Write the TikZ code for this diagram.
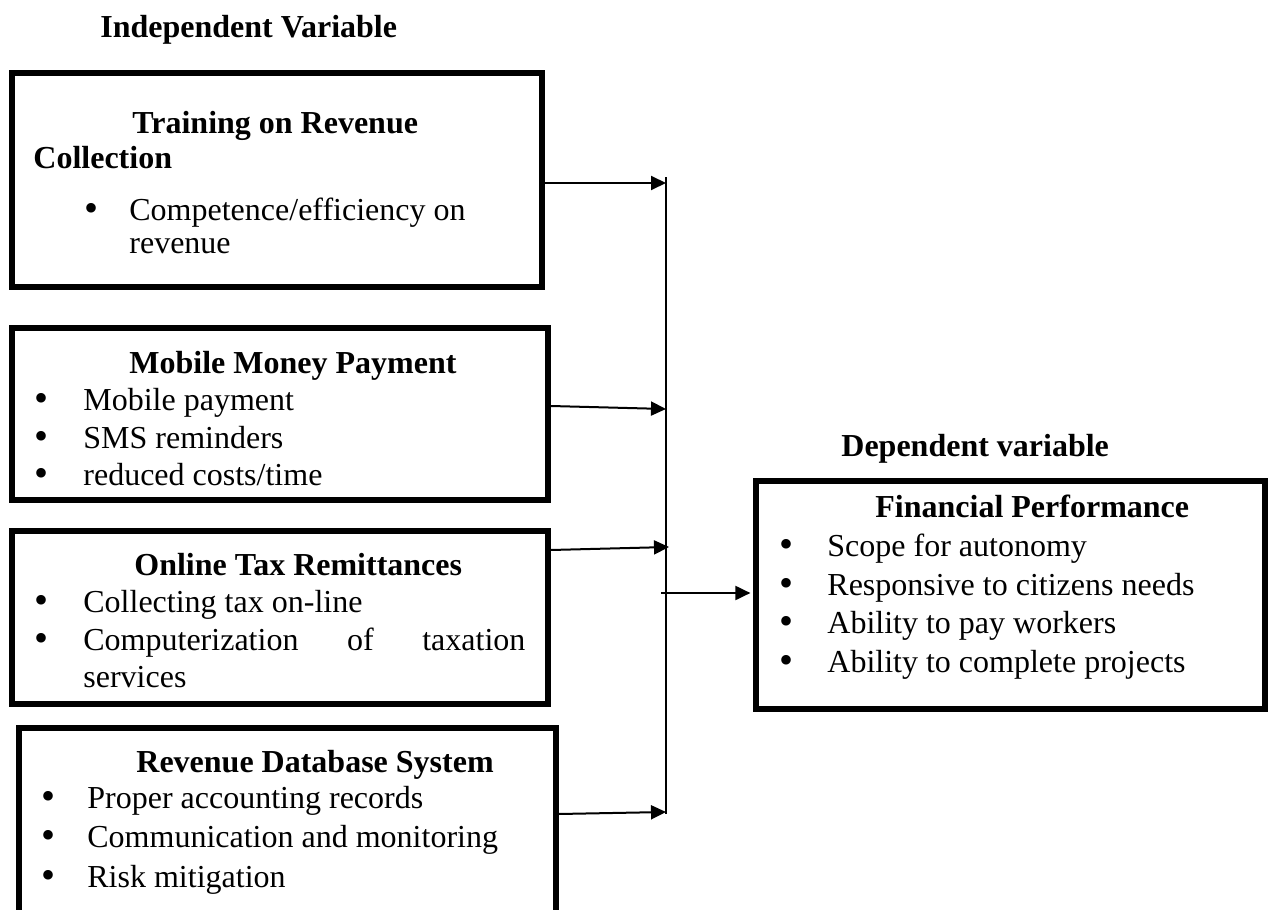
\documentclass[tikz,border=0pt]{standalone}
\usepackage{fontspec}
\setmainfont{Liberation Serif}
\usetikzlibrary{arrows.meta,fit}

\newcommand{\blt}{\smash{\raisebox{-0.04em}{\scalebox{1.25}{\textbullet}}}}

\begin{document}
\begin{tikzpicture}[x=0.5pt,y=-0.5pt, font=\fontsize{16}{19}\selectfont,
  frame/.style={draw,line width=2.8pt,inner sep=0pt},
  txt/.style={anchor=base west,inner sep=0pt},
  head/.style={txt,font=\fontsize{16}{19}\selectfont\bfseries},
  link/.style={-{Triangle[length=7.5pt,width=7pt]},line width=1pt}]
  \useasboundingbox (0,0) rectangle (1276,910);
  \clip (0,0) rectangle (1276,910);

  \node[head] (indep) at (100,37) {Independent Variable};

  % training box
  \node[frame,fit={(12,73) (542,287)}] (train) {};
  \node[head] (trainA) at (132,133) {Training on Revenue};
  \node[head] (trainB) at (33,168) {Collection};
  \node[txt] (trainDot) at (84,220) {\blt};
  \node[txt] (trainI) at (129,220) {Competence/efficiency on};
  \node[txt] (trainJ) at (129,253) {revenue};

  % mobile money box
  \node[frame,fit={(12,328) (548,500)}] (mobile) {};
  \node[head] (mobileH) at (129,373) {Mobile Money Payment};
  \node[txt] (mobileD1) at (34,410) {\blt};
  \node[txt] (mobileI1) at (83,410) {Mobile payment};
  \node[txt] (mobileD2) at (34,448) {\blt};
  \node[txt] (mobileI2) at (83,448) {SMS reminders};
  \node[txt] (mobileD3) at (34,485) {\blt};
  \node[txt] (mobileI3) at (83,485) {reduced costs/time};

  % online tax box
  \node[frame,fit={(12,531) (548,704)}] (online) {};
  \node[head] (onlineH) at (134,575) {Online Tax Remittances};
  \node[txt] (onlineD1) at (34,612) {\blt};
  \node[txt] (onlineI1) at (83,612) {Collecting tax on-line};
  \node[txt] (onlineD2) at (34,650) {\blt};
  \node[txt] (onlineI2) at (83,650) {\makebox[221pt][s]{Computerization of taxation}};
  \node[txt] (onlineI3) at (83,687) {services};

  % database box
  \node[frame,fit={(19,728) (556,950)}] (data) {};
  \node[head] (dataH) at (136,772) {Revenue Database System};
  \node[txt] (dataD1) at (41,808) {\blt};
  \node[txt] (dataI1) at (87,808) {Proper accounting records};
  \node[txt] (dataD2) at (41,847) {\blt};
  \node[txt] (dataI2) at (87,847) {Communication and monitoring};
  \node[txt] (dataD3) at (41,887) {\blt};
  \node[txt] (dataI3) at (87,887) {Risk mitigation};

  % dependent side
  \node[head] (dep) at (841,456) {Dependent variable};
  \node[frame,fit={(756,481) (1265,709)}] (perf) {};
  \node[head] (perfH) at (875,517) {Financial Performance};
  \node[txt] (perfD1) at (779,556) {\blt};
  \node[txt] (perfI1) at (827,556) {Scope for autonomy};
  \node[txt] (perfD2) at (779,595) {\blt};
  \node[txt] (perfI2) at (827,595) {Responsive to citizens needs};
  \node[txt] (perfD3) at (779,633) {\blt};
  \node[txt] (perfI3) at (827,633) {Ability to pay workers};
  \node[txt] (perfD4) at (779,672) {\blt};
  \node[txt] (perfI4) at (827,672) {Ability to complete projects};

  % collecting line
  \coordinate (busTop) at (666,177);
  \coordinate (busBot) at (666,814);
  \coordinate (in1) at (666,183);
  \coordinate (in2) at (666,409);
  \coordinate (in3) at (669,547);
  \coordinate (in4) at (666,812);
  \coordinate (hub) at (661,593);
  \draw[line width=1pt] (busTop) -- (busBot);

  \draw[link] (train.east |- in1) -- (in1);
  \draw[link] (mobile.east |- 0,406) -- (in2);
  \draw[link] (online.east |- 0,550) -- (in3);
  \draw[link] (data.east |- 0,814) -- (in4);
  \draw[link,shorten >=1.4pt] (hub) -- (hub -| perf.west);
\end{tikzpicture}
\end{document}
